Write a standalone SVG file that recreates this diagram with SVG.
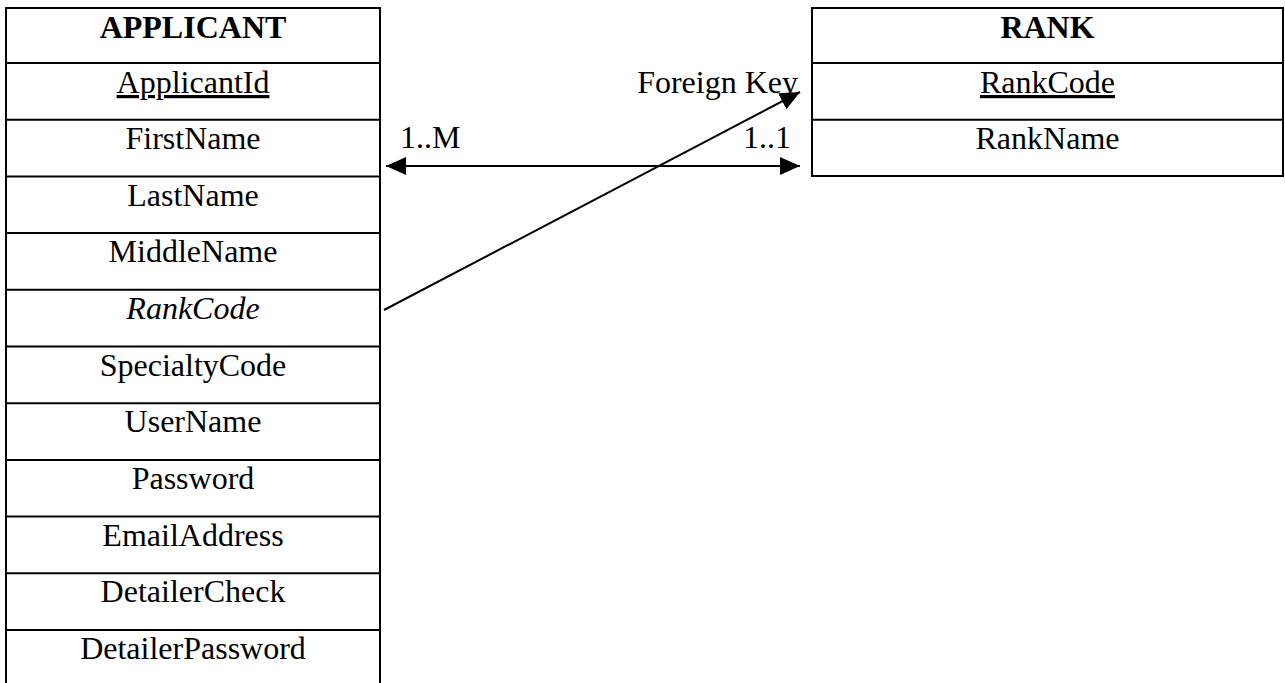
<svg xmlns="http://www.w3.org/2000/svg" width="1285" height="683" viewBox="0 0 1285 683">
  <style>
    .box { fill: #fff; stroke: #000; stroke-width: 2; }
    .sep { stroke: #000; stroke-width: 2; }
    text { font-family: "Liberation Serif", "Times New Roman", serif; font-size: 32px; fill: #000; }
    .c { text-anchor: middle; }
    .title { font-weight: bold; }
    .pk { text-decoration: underline; }
    .fk { font-style: italic; }
    .conn { stroke: #000; stroke-width: 2; fill: none; }
  </style>
  <defs>
    <marker id="arrow" viewBox="0 0 20 18" refX="20" refY="9" markerWidth="20" markerHeight="18" markerUnits="userSpaceOnUse" orient="auto-start-reverse">
      <path d="M0,0 L20,9 L0,18 Z" fill="#000"/>
    </marker>
  </defs>

  <rect width="1285" height="683" fill="#fff"/>

  <!-- APPLICANT entity -->
  <g id="applicant">
    <rect class="box" x="6" y="8" width="374" height="679"/>
    <line class="sep" x1="6" y1="63" x2="380" y2="63"/>
    <line class="sep" x1="6" y1="119.7" x2="380" y2="119.7"/>
    <line class="sep" x1="6" y1="176.4" x2="380" y2="176.4"/>
    <line class="sep" x1="6" y1="233.1" x2="380" y2="233.1"/>
    <line class="sep" x1="6" y1="289.8" x2="380" y2="289.8"/>
    <line class="sep" x1="6" y1="346.5" x2="380" y2="346.5"/>
    <line class="sep" x1="6" y1="403.2" x2="380" y2="403.2"/>
    <line class="sep" x1="6" y1="459.9" x2="380" y2="459.9"/>
    <line class="sep" x1="6" y1="516.6" x2="380" y2="516.6"/>
    <line class="sep" x1="6" y1="573.3" x2="380" y2="573.3"/>
    <line class="sep" x1="6" y1="630" x2="380" y2="630"/>
    <text class="c title" x="193" y="38">APPLICANT</text>
    <text class="c pk" x="193" y="93">ApplicantId</text>
    <text class="c" x="193" y="149">FirstName</text>
    <text class="c" x="193" y="206">LastName</text>
    <text class="c" x="193" y="262">MiddleName</text>
    <text class="c fk" x="193" y="319">RankCode</text>
    <text class="c" x="193" y="376">SpecialtyCode</text>
    <text class="c" x="193" y="432">UserName</text>
    <text class="c" x="193" y="489">Password</text>
    <text class="c" x="193" y="546">EmailAddress</text>
    <text class="c" x="193" y="602">DetailerCheck</text>
    <text class="c" x="193" y="659">DetailerPassword</text>
  </g>

  <!-- RANK entity -->
  <g id="rank">
    <rect class="box" x="812" y="8" width="471" height="168"/>
    <line class="sep" x1="812" y1="63" x2="1283" y2="63"/>
    <line class="sep" x1="812" y1="119.7" x2="1283" y2="119.7"/>
    <text class="c title" x="1047.5" y="38">RANK</text>
    <text class="c pk" x="1047.5" y="93">RankCode</text>
    <text class="c" x="1047.5" y="149">RankName</text>
  </g>

  <!-- relationships -->
  <g id="connectors">
    <line class="conn" x1="386" y1="166" x2="800" y2="166" marker-start="url(#arrow)" marker-end="url(#arrow)"/>
    <text x="400" y="148">1..M</text>
    <text x="791" y="148" text-anchor="end">1..1</text>
    <line class="conn" x1="384" y1="310" x2="800" y2="92" marker-end="url(#arrow)"/>
    <text x="798" y="93" text-anchor="end">Foreign Key</text>
  </g>
</svg>
